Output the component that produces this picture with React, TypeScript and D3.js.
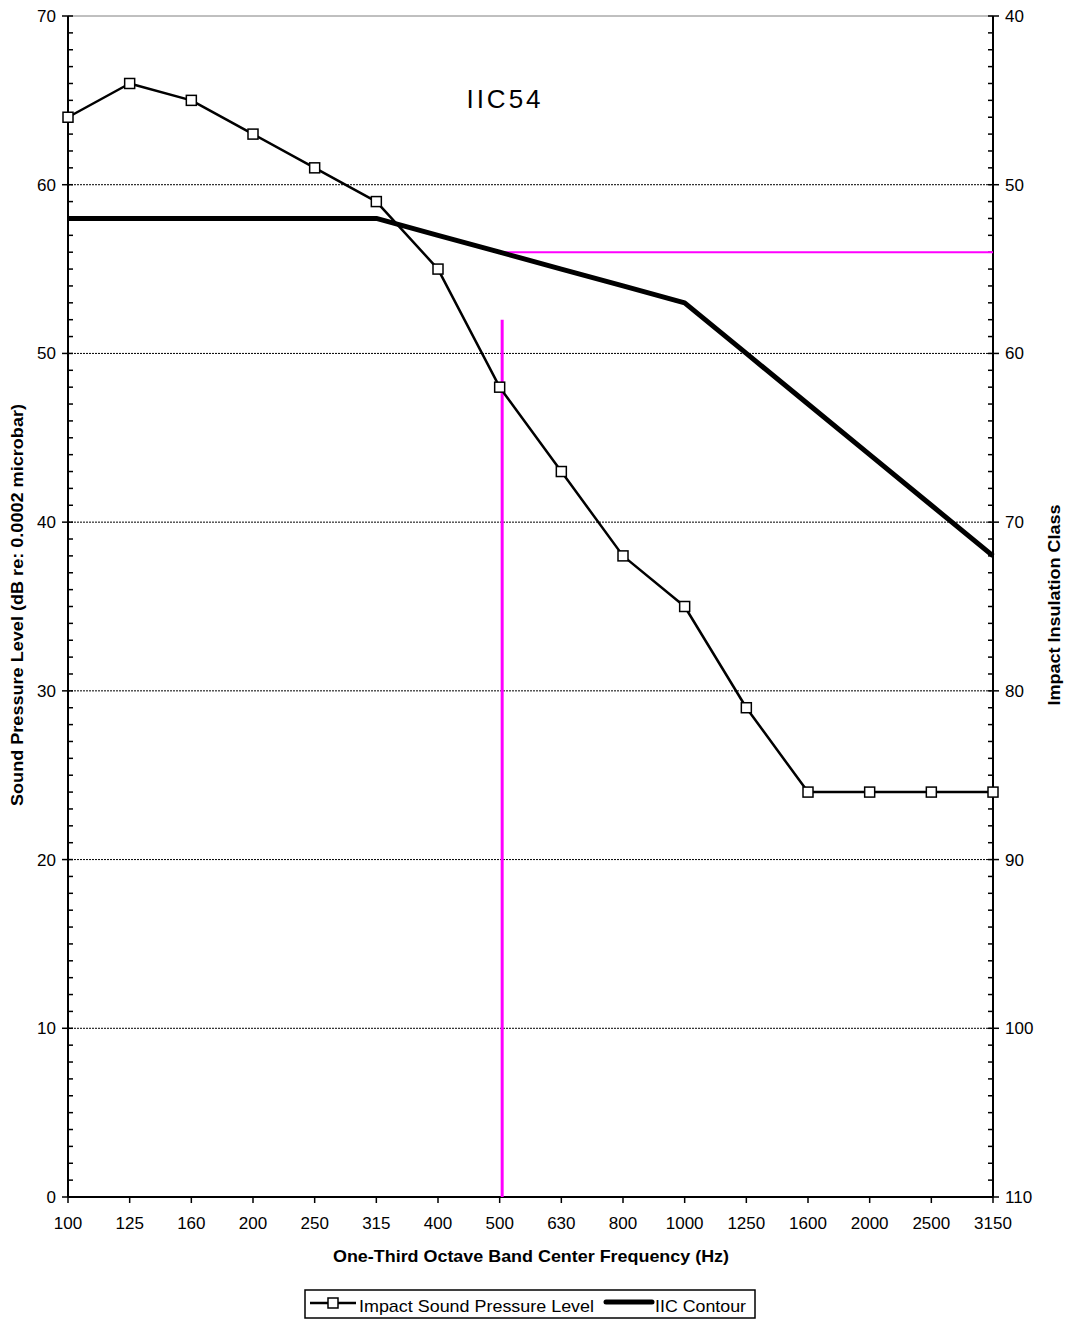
import React from "react";
import * as d3 from "d3";

const categories = ["100","125","160","200","250","315","400","500","630","800","1000","1250","1600","2000","2500","3150"];
const ispl = [64,66,65,63,61,59,55,48,43,38,35,29,24,24,24,24];
const contour = [58,58,58,58,58,58,57,56,55,54,53,50,47,44,41,38];
const leftTicks = [0,10,20,30,40,50,60,70];
const rightTicks = [40,50,60,70,80,90,100,110];
const gridValues = [10,20,30,40,50,60];
const iicValue = 54;
const verticalMarker = { cat: "500", top: 52 };
const horizontalMarker = { from: "500", value: 56 };

const W = 1068, H = 1319;
const L = 68, R = 993, T = 16, B = 1197;
const font = "Liberation Sans, Arial, sans-serif";

export default function App() {
  const x = d3.scalePoint<string>().domain(categories).range([L, R]);
  const y = d3.scaleLinear().domain([0, 70]).range([B, T]);
  const y2 = d3.scaleLinear().domain([110, 40]).range([B, T]);
  const line = d3.line<number>().x((_, i) => x(categories[i])!).y(d => y(d));
  const minor = d3.range(0, 71, 1);
  const minor2 = d3.range(40, 111, 1);

  return (
    <svg width={W} height={H} style={{ position: "absolute", left: 0, top: 0 }} fontFamily={font}>
      <rect width={W} height={H} fill="#fff" />
      <line x1={L} x2={R} y1={T} y2={T} stroke="#808080" strokeWidth={1} />
      {gridValues.map(v => (
        <line key={v} x1={L} x2={R} y1={y(v)} y2={y(v)} stroke="#000" strokeWidth={1} strokeDasharray="2,1" />
      ))}
      <line x1={L} x2={L} y1={T} y2={B} stroke="#000" strokeWidth={2} />
      {minor.map(v => (
        <line key={"lm" + v} x1={L} x2={L + 5} y1={y(v)} y2={y(v)} stroke="#000" strokeWidth={1.5} />
      ))}
      {leftTicks.map(v => (
        <g key={"l" + v}>
          <line x1={L - 6} x2={L} y1={y(v)} y2={y(v)} stroke="#000" strokeWidth={1.5} />
          <text x={L - 12} y={y(v)} dy="0.35em" textAnchor="end" fontSize={17}>{v}</text>
        </g>
      ))}
      <line x1={R} x2={R} y1={T} y2={B} stroke="#000" strokeWidth={2} />
      {minor2.map(v => (
        <line key={"rm" + v} x1={R - 5} x2={R} y1={y2(v)} y2={y2(v)} stroke="#000" strokeWidth={1.5} />
      ))}
      {rightTicks.map(v => (
        <g key={"r" + v}>
          <line x1={R} x2={R + 6} y1={y2(v)} y2={y2(v)} stroke="#000" strokeWidth={1.5} />
          <text x={R + 12} y={y2(v)} dy="0.35em" textAnchor="start" fontSize={17}>{v}</text>
        </g>
      ))}
      <line x1={L} x2={R} y1={B} y2={B} stroke="#000" strokeWidth={2} />
      {categories.map(c => (
        <g key={"x" + c}>
          <line x1={x(c)} x2={x(c)} y1={B} y2={B + 6} stroke="#000" strokeWidth={1.5} />
          <text x={x(c)} y={B + 32} textAnchor="middle" fontSize={17}>{c}</text>
        </g>
      ))}
      <text x={531} y={1262} textAnchor="middle" fontSize={17} fontWeight="bold" textLength={396} lengthAdjust="spacingAndGlyphs">One-Third Octave Band Center Frequency (Hz)</text>
      <text transform={`translate(23,605) rotate(-90)`} textAnchor="middle" fontSize={16} fontWeight="bold" textLength={402} lengthAdjust="spacingAndGlyphs">Sound Pressure Level (dB re: 0.0002 microbar)</text>
      <text transform={`translate(1060,605) rotate(-90)`} textAnchor="middle" fontSize={16} fontWeight="bold" textLength={201} lengthAdjust="spacingAndGlyphs">Impact Insulation Class</text>
      <line x1={x(horizontalMarker.from)} x2={R} y1={y(horizontalMarker.value)} y2={y(horizontalMarker.value)} stroke="#ff00ff" strokeWidth={2} />
      <line x1={x(verticalMarker.cat)! + 2.5} x2={x(verticalMarker.cat)! + 2.5} y1={y(verticalMarker.top)} y2={B} stroke="#ff00ff" strokeWidth={3} />
      <path d={line(contour)!} fill="none" stroke="#000" strokeWidth={5} strokeLinejoin="round" />
      <path d={line(ispl)!} fill="none" stroke="#000" strokeWidth={2.5} strokeLinejoin="round" />
      {ispl.map((v, i) => (
        <rect key={"m" + i} x={x(categories[i])! - 5} y={y(v) - 5} width={10} height={10} fill="#fff" stroke="#000" strokeWidth={1.5} />
      ))}
      <text x={505} y={108} textAnchor="middle" fontSize={26} letterSpacing={3}>IIC{iicValue}</text>
      <rect x={305} y={1290} width={450} height={28} fill="#fff" stroke="#000" strokeWidth={1.5} />
      <line x1={310} x2={356} y1={1303} y2={1303} stroke="#000" strokeWidth={2.5} />
      <rect x={328} y={1298} width={10} height={10} fill="#fff" stroke="#000" strokeWidth={1.5} />
      <text x={359} y={1312} fontSize={17} textLength={235} lengthAdjust="spacingAndGlyphs">Impact Sound Pressure Level</text>
      <line x1={606} x2={652} y1={1302} y2={1302} stroke="#000" strokeWidth={5} strokeLinecap="round" />
      <text x={655} y={1312} fontSize={17} textLength={91} lengthAdjust="spacingAndGlyphs">IIC Contour</text>
    </svg>
  );
}
